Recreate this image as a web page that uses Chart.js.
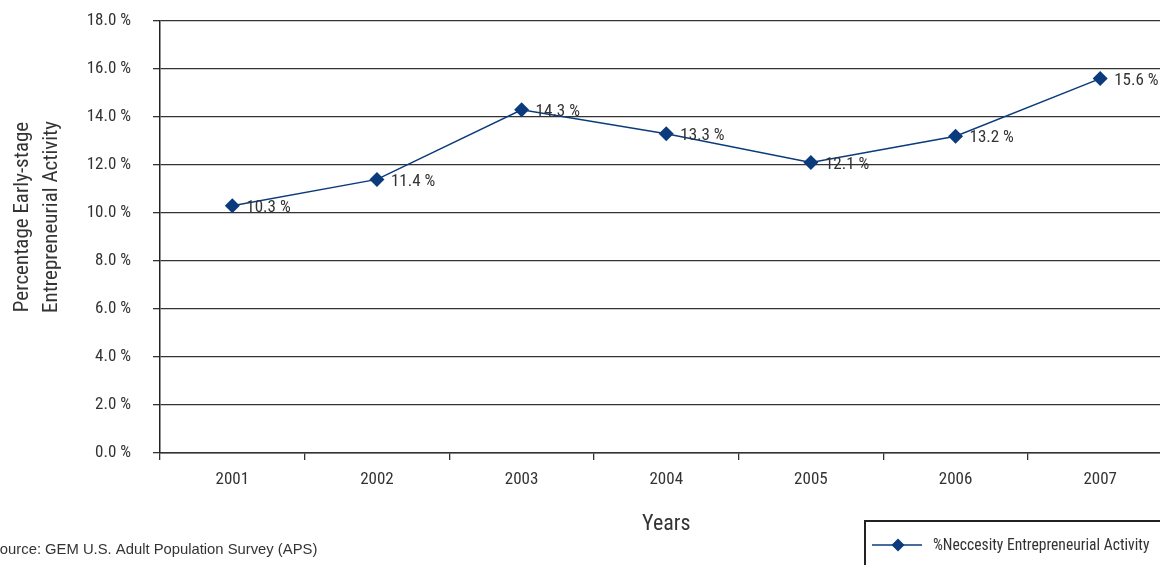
<!DOCTYPE html>
<html>
<head>
<meta charset="utf-8">
<script src="https://cdn.jsdelivr.net/npm/chart.js@4/dist/chart.umd.min.js"></script>
<style>
html,body{margin:0;padding:0;overflow:hidden;background:#fff;width:1160px;height:565px;}
#wrap{position:absolute;left:0;top:0;width:1180px;height:565px;}
</style>
</head>
<body>
<div id="wrap"><canvas id="c"></canvas></div>
<script>
const years = ['2001','2002','2003','2004','2005','2006','2007'];
const necessityValues = [10.3, 11.4, 14.3, 13.3, 12.1, 13.2, 15.6];
const seriesName = '%Neccesity Entrepreneurial Activity';
const yTitleLines = ['Percentage Early-stage', 'Entrepreneurial Activity'];
const xTitle = 'Years';
const sourceNote = 'Source: GEM U.S. Adult Population Survey (APS)';

const NARROW = '"Roboto Condensed", "DejaVu Sans Condensed", sans-serif';
const REG = '"Liberation Sans", Arial, sans-serif';
const LINE_COLOR = '#0b3b7c';
const TEXT = '#333333';

const extras = {
  id: 'extras',
  afterDatasetsDraw(chart) {
    const ctx = chart.ctx;
    const meta = chart.getDatasetMeta(0);
    ctx.save();
    ctx.font = '17px ' + NARROW;
    ctx.fillStyle = TEXT;
    ctx.textAlign = 'left';
    ctx.textBaseline = 'middle';
    meta.data.forEach((pt, i) => {
      ctx.fillText(necessityValues[i].toFixed(1) + ' %', pt.x + 14, pt.y + 2);
    });
    ctx.restore();
  },
  afterDraw(chart) {
    const ctx = chart.ctx;
    ctx.save();
    ctx.font = '21px ' + NARROW;
    ctx.fillStyle = TEXT;
    ctx.textAlign = 'center';
    ctx.textBaseline = 'middle';
    ctx.translate(23, 217);
    ctx.rotate(-Math.PI / 2);
    ctx.fillText(yTitleLines[0], 0, 0);
    ctx.fillText(yTitleLines[1], 0, 29);
    ctx.restore();

    ctx.save();
    ctx.font = '14.8px ' + REG;
    ctx.fillStyle = TEXT;
    ctx.textAlign = 'left';
    ctx.textBaseline = 'middle';
    ctx.fillText(sourceNote, -10, 550);
    ctx.restore();

    ctx.save();
    ctx.strokeStyle = '#222';
    ctx.lineWidth = 2;
    ctx.strokeRect(865, 521, 400, 100);
    ctx.strokeStyle = LINE_COLOR;
    ctx.lineWidth = 1.5;
    ctx.beginPath();
    ctx.moveTo(872, 545);
    ctx.lineTo(922, 545);
    ctx.stroke();
    ctx.fillStyle = LINE_COLOR;
    ctx.beginPath();
    ctx.moveTo(898, 538.5);
    ctx.lineTo(904.5, 545);
    ctx.lineTo(898, 551.5);
    ctx.lineTo(891.5, 545);
    ctx.closePath();
    ctx.fill();
    ctx.font = '15.6px ' + NARROW;
    ctx.fillStyle = TEXT;
    ctx.textAlign = 'left';
    ctx.textBaseline = 'middle';
    ctx.fillText(chart.data.datasets[0].label, 933, 546);
    ctx.restore();
  }
};

new Chart(document.getElementById('c'), {
  type: 'line',
  data: {
    labels: years,
    datasets: [{
      label: seriesName,
      data: necessityValues,
      borderColor: LINE_COLOR,
      backgroundColor: LINE_COLOR,
      borderWidth: 1.5,
      pointStyle: 'rectRot',
      pointRadius: 7.5,
      pointHoverRadius: 7.5,
      pointBackgroundColor: LINE_COLOR,
      pointBorderColor: LINE_COLOR,
      pointBorderWidth: 0,
      tension: 0
    }]
  },
  options: {
    responsive: true,
    maintainAspectRatio: false,
    animation: false,
    layout: { padding: { left: 0, top: 21, right: 6, bottom: 0 } },
    plugins: {
      legend: { display: false },
      tooltip: { enabled: false }
    },
    scales: {
      x: {
        type: 'category',
        offset: true,
        grid: { offset: true, drawOnChartArea: false, tickLength: 7, color: '#333', lineWidth: 1.3 },
        border: { display: true, color: '#333', width: 1.5 },
        ticks: { font: { family: NARROW, size: 17 }, color: TEXT, padding: 10, maxRotation: 0 },
        title: { display: true, text: xTitle, font: { family: NARROW, size: 22 }, color: TEXT, padding: { top: 0, bottom: 27 } },
        afterFit(s) { s.height = 112; }
      },
      y: {
        min: 0, max: 18,
        ticks: { stepSize: 2, font: { family: NARROW, size: 17 }, color: TEXT, padding: 22,
                 callback: v => v.toFixed(1) + ' %' },
        grid: { color: '#333', lineWidth: 1.3, tickLength: 7 },
        border: { display: true, color: '#222', width: 1.5 },
        afterFit(s) { s.width = 160; s.paddingTop = 10; s.paddingBottom = 10; }
      }
    }
  },
  plugins: [extras]
});
</script>
</body>
</html>
